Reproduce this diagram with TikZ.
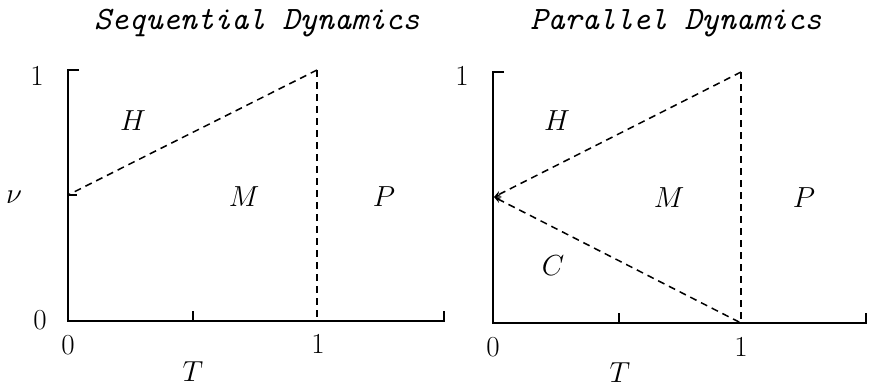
\documentclass[tikz,border=0pt]{standalone}
\usepackage{fontspec}
\usetikzlibrary{arrows.meta,calc}
\begin{document}
\begin{tikzpicture}[x=0.858pt,y=-0.858pt,
  axis/.style={line width=1.4pt},
  bound/.style={line width=1.3pt,dash pattern=on 6pt off 4.3pt},
  lbl/.style={font=\fontsize{24.88}{30}\selectfont,inner sep=0pt},
  ttl/.style={font=\fontsize{28}{34}\selectfont\ttfamily\itshape,inner sep=0pt}]
\useasboundingbox (0,0) rectangle (869,387);
% ---- left panel ----
\coordinate (O1) at (68,321);
\coordinate (Y1) at (68,70);
\coordinate (E1) at (444,321);
\coordinate (U1) at (317,321);
\coordinate (T1) at (317,70);
\coordinate (V1) at (68,195);
\coordinate (M1) at (193,321);
\draw[axis] ($(Y1)+(11,0)$) -- (Y1) -- (O1) -- (E1) -- ++(0,-10);
\draw[axis] (M1) -- ++(0,-10);
\draw[axis] (V1) -- ++(9,0);
\draw[bound] (T1) -- (V1);
\draw[bound] (T1) -- (U1);
\node[ttl] (tt1) at (257,23) {Sequential Dynamics};
\node[lbl] (y1a) at (37,76) {$1$};
\node[lbl] (y0a) at (40,320) {$0$};
\node[lbl] (x0a) at (68,345) {$0$};
\node[lbl] (x1a) at (318,344) {$1$};
\node[lbl] (Ta) at (193,372) {$T$};
\node[lbl] (nua) at (14,197) {$\nu$};
\node[lbl] (Ha) at (133,121) {$H$};
\node[lbl] (Ma) at (244,197) {$M$};
\node[lbl] (Pa) at (384,197) {$P$};
% ---- right panel ----
\coordinate (O2) at (493,323);
\coordinate (Y2) at (493,72);
\coordinate (E2) at (866,323);
\coordinate (U2) at (741,323);
\coordinate (T2) at (741,72);
\coordinate (V2) at (494,197);
\coordinate (M2) at (619,323);
\draw[axis] ($(Y2)+(11,0)$) -- (Y2) -- (O2) -- (E2) -- ++(0,-10);
\draw[axis] (M2) -- ++(0,-10);
\draw[bound,-{Stealth[length=6pt,width=5pt]}] (T2) -- (V2);
\draw[bound,{Stealth[length=6pt,width=5pt]}-] (V2) -- (U2);
\draw[bound] (T2) -- (U2);
\node[ttl] (tt2) at (676,23) {Parallel Dynamics};
\node[lbl] (y1b) at (462,76) {$1$};
\node[lbl] (x0b) at (493,347) {$0$};
\node[lbl] (x1b) at (741,347) {$1$};
\node[lbl] (Tb) at (620,373) {$T$};
\node[lbl] (Hb) at (557,121) {$H$};
\node[lbl] (Mb) at (669,198) {$M$};
\node[lbl] (Pb) at (804,198) {$P$};
\node[lbl] (Cb) at (553,266) {$C$};
\end{tikzpicture}
\end{document}
